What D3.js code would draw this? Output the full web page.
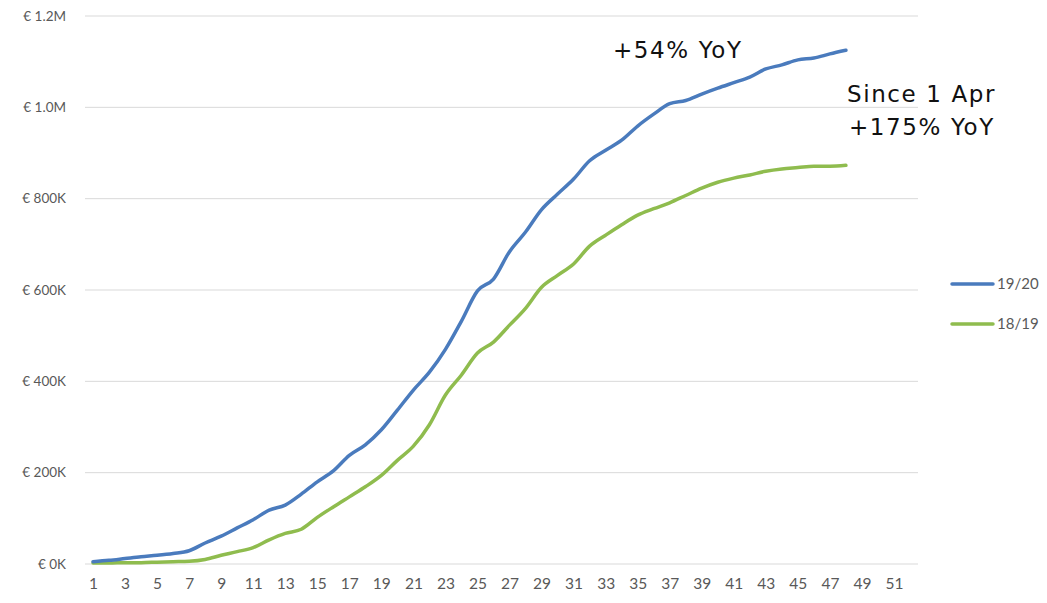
<!DOCTYPE html>
<html>
<head>
<meta charset="utf-8">
<script src="https://cdn.jsdelivr.net/npm/d3@7"></script>
<style>
  html, body { margin: 0; padding: 0; background: #fff; }
  svg { display: block; }
</style>
</head>
<body>
<svg id="chart" width="1047" height="603"></svg>
<script>
// Weeks of the season (categories 1..52)
const weeks = d3.range(1, 53);

// Cumulative revenue, season 19/20 (weeks 1..48)
const season1920 = [
  5000, 8000, 12000, 16000, 19000, 23000, 29000, 46000, 61000, 79000,
  97000, 118000, 129000, 153000, 180000, 204000, 238000, 261000, 294000, 337000,
  381000, 420000, 470000, 532000, 598000, 624000, 684000, 727000, 776000, 810000,
  843000, 883000, 906000, 928000, 959000, 985000, 1008000, 1015000, 1029000, 1042000,
  1054000, 1066000, 1084000, 1093000, 1104000, 1108000, 1117000, 1125000
];

// Cumulative revenue, season 18/19 (weeks 1..48)
const season1819 = [
  2000, 2000, 3000, 3000, 4000, 5000, 6000, 10000, 19000, 27000,
  36000, 53000, 67000, 76000, 102000, 125000, 147000, 169000, 194000, 227000,
  258000, 305000, 370000, 414000, 462000, 486000, 523000, 560000, 606000, 632000,
  657000, 696000, 720000, 743000, 764000, 778000, 791000, 807000, 823000, 836000,
  845000, 852000, 860000, 865000, 868000, 871000, 871000, 873000
];

const yTicks = [0, 200000, 400000, 600000, 800000, 1000000, 1200000];
const yTickLabels = ["€ 0K", "€ 200K", "€ 400K", "€ 600K", "€ 800K", "€ 1.0M", "€ 1.2M"];
const xTickLabels = d3.range(1, 52, 2);

const seriesNames = ["19/20", "18/19"];
const seriesColors = ["#4a7bbd", "#8fbc4e"];
const notes = [
  { lines: ["+54% YoY"], x: 613, y: 58 },
  { lines: ["Since 1 Apr", "+175% YoY"], x: 847, y: 102 }
];

const svg = d3.select("#chart");
const plotLeft = 85, plotRight = 918, plotTop = 16, plotBottom = 564;

const x = d3.scalePoint().domain(weeks).range([plotLeft, plotRight]).padding(0.5);
const y = d3.scaleLinear().domain([0, 1200000]).range([plotBottom, plotTop]);

// horizontal gridlines
svg.append("g")
  .selectAll("line")
  .data(yTicks)
  .join("line")
  .attr("x1", plotLeft).attr("x2", plotRight)
  .attr("y1", d => y(d)).attr("y2", d => y(d))
  .attr("stroke", "#d9d9d9")
  .attr("stroke-width", 1);

// y-axis labels
const yAxis = d3.axisLeft(y)
  .tickValues(yTicks)
  .tickFormat((d, i) => yTickLabels[i])
  .tickSize(0)
  .tickPadding(19);
svg.append("g")
  .attr("transform", `translate(${plotLeft},0)`)
  .call(yAxis)
  .call(g => g.select(".domain").remove())
  .call(g => g.selectAll("text")
    .attr("font-family", "Lato, 'Open Sans', sans-serif")
    .attr("font-size", 13.5)
    .attr("fill", "#595959"));

// x-axis labels
const xAxis = d3.axisBottom(x)
  .tickValues(xTickLabels)
  .tickSize(0)
  .tickPadding(14);
svg.append("g")
  .attr("transform", `translate(0,${plotBottom})`)
  .call(xAxis)
  .call(g => g.select(".domain").remove())
  .call(g => g.selectAll("text")
    .attr("font-family", "Lato, 'Open Sans', sans-serif")
    .attr("font-size", 15.5)
    .attr("fill", "#595959"));

// lines
const line = d3.line()
  .x((d, i) => x(weeks[i]))
  .y(d => y(d))
  .curve(d3.curveMonotoneX);

[[season1819, 1], [season1920, 0]].forEach(([vals, idx]) => {
  svg.append("path")
    .datum(vals)
    .attr("fill", "none")
    .attr("stroke", seriesColors[idx])
    .attr("stroke-width", 3.5)
    .attr("stroke-linejoin", "round")
    .attr("stroke-linecap", "round")
    .attr("d", line);
});

// legend
const legend = svg.append("g");
seriesNames.forEach((name, i) => {
  const ly = 284 + i * 40;
  legend.append("line")
    .attr("x1", 952).attr("x2", 993)
    .attr("y1", ly).attr("y2", ly)
    .attr("stroke", seriesColors[i])
    .attr("stroke-width", 3.5)
    .attr("stroke-linecap", "round");
  legend.append("text")
    .attr("x", 997).attr("y", ly + 5)
    .attr("font-family", "Lato, 'Open Sans', sans-serif")
    .attr("font-size", 15)
    .attr("fill", "#595959")
    .text(name);
});

// annotations
notes.forEach(n => {
  const t = svg.append("text")
    .attr("font-family", "'DejaVu Sans', sans-serif")
    .attr("font-size", 23)
    .attr("letter-spacing", 1.6)
    .attr("fill", "#111");
  n.lines.forEach((s, i) => {
    t.append("tspan")
      .attr("x", n.x + i * 2)
      .attr("y", n.y + i * 33)
      .text(s);
  });
});
</script>
</body>
</html>
